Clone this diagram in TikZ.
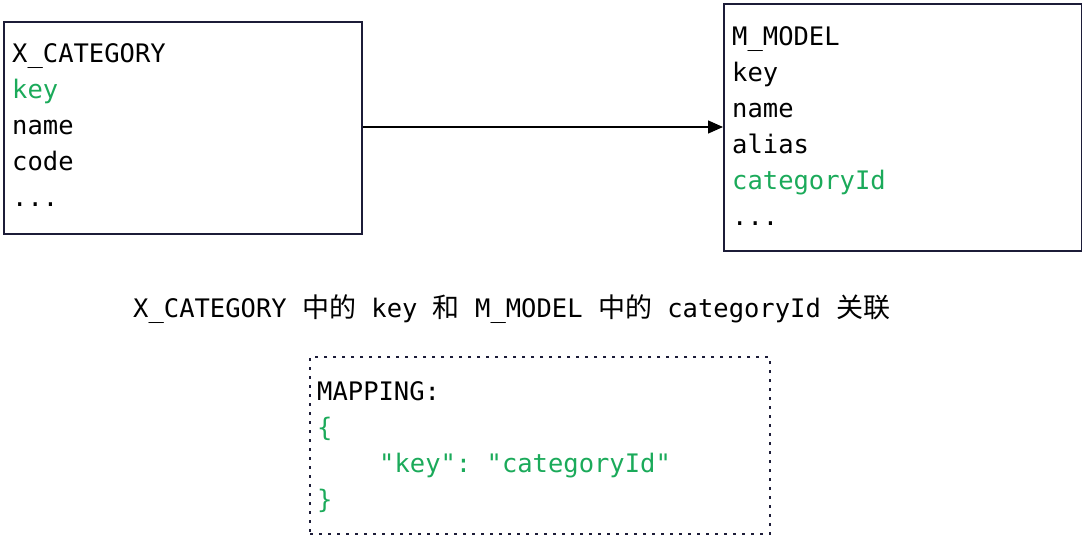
\documentclass[tikz,border=0pt]{standalone}
\usepackage{fontspec}
\setmonofont{DejaVu Sans Mono}
\newfontfamily\cjk{Noto Sans CJK SC}
\newcommand\zh[1]{{\cjk\fontsize{27pt}{30pt}\selectfont #1}}
\usetikzlibrary{arrows.meta}
\definecolor{boxline}{HTML}{1C1C38}
\definecolor{keygreen}{HTML}{1BAA5A}
\tikzset{
  tbl/.style={draw=boxline, line width=1.5pt},
  txt/.style={anchor=base west, inner sep=0pt, font=\ttfamily\fontsize{25.5pt}{30pt}\selectfont, text=black},
  grn/.style={txt, text=keygreen},
  link/.style={draw=black, line width=1.4pt, -{Triangle[length=15pt,width=13pt]}},
  mapbox/.style={draw=boxline, line width=2pt, dash pattern=on 3pt off 6pt}
}
\begin{document}
\begin{tikzpicture}[x=1pt,y=-1pt]
\useasboundingbox (0,0) rectangle (1082,536);
% left table
\node[tbl, minimum width=358pt, minimum height=212pt, anchor=north west, inner sep=0pt] (xcat) at (3,21) {};
\node[txt] (x1) at (12,62) {X\_CATEGORY};
\node[grn] (x2) at (12,98) {key};
\node[txt] (x3) at (12,134) {name};
\node[txt] (x4) at (12,170) {code};
\node[txt] (x5) at (12,206) {...};
% right table
\node[tbl, minimum width=358pt, minimum height=247pt, anchor=north west, inner sep=0pt] (mmod) at (723,3) {};
\node[txt] (m1) at (732,45) {M\_MODEL};
\node[txt] (m2) at (732,81) {key};
\node[txt] (m3) at (732,117) {name};
\node[txt] (m4) at (732,153) {alias};
\node[grn] (m5) at (732,189) {categoryId};
\node[txt] (m6) at (732,225) {...};
% connector
\draw[link] (xcat.east |- 0,127) -- (mmod.west |- 0,127);
% caption
\node[txt] (cap) at (133,317) {X\_CATEGORY \zh{中的} key \zh{和} M\_MODEL \zh{中的} categoryId \zh{关联}};
% mapping box
\node[mapbox, minimum width=460pt, minimum height=177pt, anchor=north west, inner sep=0pt] (map) at (309,356) {};
\node[txt] (p1) at (317,400) {MAPPING:};
\node[grn] (p2) at (317,436) {\{};
\node[grn] (p3) at (379,472) {"key": "categoryId"};
\node[grn] (p4) at (317,508) {\}};
\end{tikzpicture}
\end{document}
